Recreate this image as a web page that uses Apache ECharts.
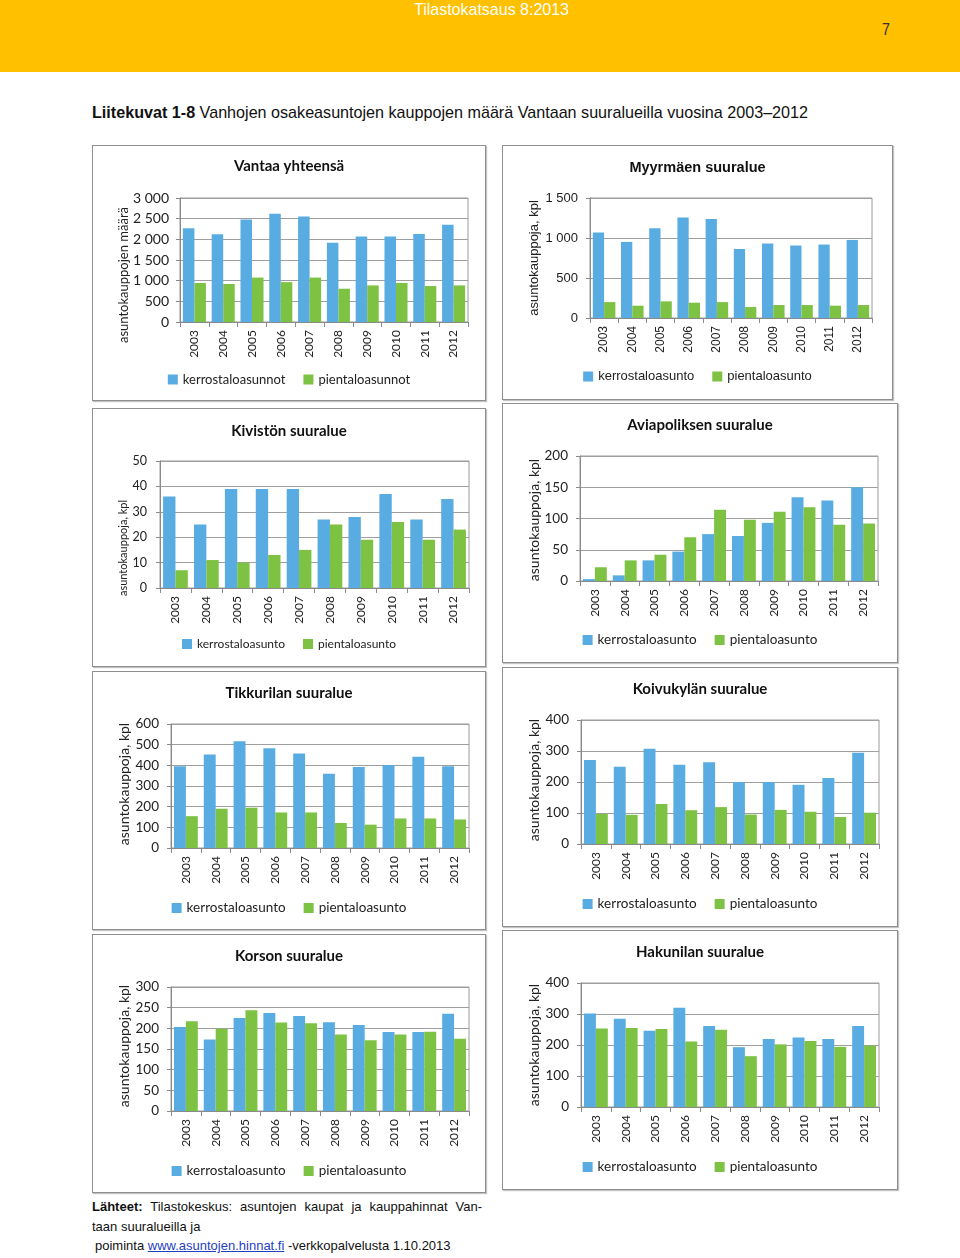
<!DOCTYPE html>
<html><head><meta charset="utf-8">
<script src="https://cdn.jsdelivr.net/npm/echarts@6/dist/echarts.min.js"></script>
<style>
html,body{margin:0;padding:0;background:#fff;}
body{width:960px;height:1258px;position:relative;overflow:hidden;font-family:"Liberation Sans",Arial,sans-serif;}
#band{position:absolute;left:0;top:0;width:960px;height:72px;background:#FFC000;}
#hdr{position:absolute;left:414px;top:0;display:inline-block;white-space:nowrap;color:#fff;font:17px/20px "Liberation Sans",Arial,sans-serif;transform-origin:left top;}
#pg{position:absolute;left:882px;top:20px;display:inline-block;color:#333;font:17px/20px "Liberation Sans",Arial,sans-serif;transform-origin:left top;}
#ttl{position:absolute;left:92px;top:103px;display:inline-block;white-space:nowrap;color:#111;font:17px/20px "Liberation Sans",Arial,sans-serif;transform-origin:left top;}
.panel{position:absolute;box-sizing:border-box;border:1px solid #8f8f8f;box-shadow:1px 1px 1px #c2c2c2;background:#fff;}
.panel .c{position:absolute;left:-1px;top:-1px;}
#foot{position:absolute;left:92px;top:1197px;width:390px;color:#111;font:13px/19.5px "Liberation Sans",Arial,sans-serif;}
#foot a{color:#1f3fbf;text-decoration:underline;}
</style>
</head>
<body>
<div id="band"></div>
<div id="hdr">Tilastokatsaus 8:2013</div>
<div id="pg">7</div>
<div id="ttl"><b>Liitekuvat 1-8</b> Vanhojen osakeasuntojen kauppojen määrä Vantaan suuralueilla vuosina 2003–2012</div>

<div class="panel" style="left:92px;top:145px;width:394px;height:256px"><div class="c" id="c1" style="width:394px;height:256px"></div></div>
<div class="panel" style="left:502px;top:145px;width:391px;height:255px"><div class="c" id="c2" style="width:391px;height:255px"></div></div>
<div class="panel" style="left:92px;top:408px;width:394px;height:259px"><div class="c" id="c3" style="width:394px;height:259px"></div></div>
<div class="panel" style="left:502px;top:403px;width:396px;height:260px"><div class="c" id="c4" style="width:396px;height:260px"></div></div>
<div class="panel" style="left:92px;top:671px;width:394px;height:259px"><div class="c" id="c5" style="width:394px;height:259px"></div></div>
<div class="panel" style="left:502px;top:667px;width:396px;height:260px"><div class="c" id="c6" style="width:396px;height:260px"></div></div>
<div class="panel" style="left:92px;top:934px;width:394px;height:259px"><div class="c" id="c7" style="width:394px;height:259px"></div></div>
<div class="panel" style="left:502px;top:930px;width:396px;height:260px"><div class="c" id="c8" style="width:396px;height:260px"></div></div>

<div id="foot">
<div style="text-align:justify;text-align-last:justify"><b>Lähteet:</b> Tilastokeskus: asuntojen kaupat ja kauppahinnat Van-</div>
<div>taan suuralueilla ja</div>
<div style="padding-left:3px">poiminta <a href="#">www.asuntojen.hinnat.fi</a> -verkkopalvelusta 1.10.2013</div>
</div>

<script>
// ---- data ----
const years = ['2003','2004','2005','2006','2007','2008','2009','2010','2011','2012'];

const vantaaKerros    = [2270, 2120, 2480, 2620, 2555, 1920, 2070, 2070, 2130, 2355];
const vantaaPiental   = [945, 920, 1075, 965, 1075, 805, 885, 945, 870, 885];
const myyrmakiKerros  = [1068, 951, 1122, 1255, 1238, 864, 931, 906, 918, 976];
const myyrmakiPiental = [199, 154, 208, 191, 199, 137, 162, 162, 154, 162];
const kivistoKerros   = [36, 25, 39, 39, 39, 27, 28, 37, 27, 35];
const kivistoPiental  = [7, 11, 10, 13, 15, 25, 19, 26, 19, 23];
const aviapolisKerros = [3, 9, 33, 47, 75, 72, 93, 134, 129, 150];
const aviapolisPiental= [22, 33, 42, 70, 114, 98, 111, 118, 90, 92];
const tikkurilaKerros = [396, 452, 516, 483, 457, 359, 392, 402, 441, 396];
const tikkurilaPiental= [154, 190, 195, 172, 172, 121, 113, 143, 143, 138];
const koivukylaKerros = [271, 249, 307, 256, 264, 200, 200, 191, 213, 294];
const koivukylaPiental= [97, 94, 129, 109, 119, 95, 110, 104, 87, 101];
const korsoKerros     = [203, 173, 225, 237, 230, 215, 208, 191, 191, 235];
const korsoPiental    = [217, 199, 244, 214, 212, 185, 171, 185, 192, 175];
const hakunilaKerros  = [302, 285, 246, 320, 261, 193, 219, 224, 219, 261];
const hakunilaPiental = [253, 255, 252, 211, 249, 164, 202, 213, 194, 198];

const namesTotal  = ['kerrostaloasunnot', 'pientaloasunnot'];
const namesArea   = ['kerrostaloasunto', 'pientaloasunto'];
const yNameTotal  = 'asuntokauppojen määrä';
const yNameArea   = 'asuntokauppoja, kpl';

// ---- condensed header text (Arial Narrow look) ----
function fitWidth(id, target){
  const el = document.getElementById(id);
  const w = el.getBoundingClientRect().width;
  el.style.transform = 'scaleX(' + (target / w) + ')';
}
fitWidth('hdr', 155);
fitWidth('ttl', 716);
fitWidth('pg', 8);

// ---- styling ----
const BLUE = '#58ACE1';
const GREEN = '#7DC243';
const CAL = 'Lato, "Open Sans", sans-serif';
const ARI = '"Liberation Sans", Arial, sans-serif';

function fmt(v){ return String(v).replace(/\B(?=(\d{3})+(?!\d))/g, ' '); }

function makeChart(id, cfg){
  const chart = echarts.init(document.getElementById(id), null, {renderer:'canvas'});
  const ff = cfg.font;
  chart.setOption({
    animation:false,
    textStyle:{fontFamily:ff},
    title:{text:cfg.title, left:'center', top:cfg.titleY-9, padding:0,
      textStyle:{fontFamily:ff, fontSize:cfg.titleSize || 15, fontWeight:'bold', color:'#111'}},
    legend:{data:cfg.names, left:'center', top:cfg.legendY-7, padding:0,
      itemWidth:10, itemHeight:10, itemGap:18, icon:'rect',
      textStyle:{fontFamily:ff, fontSize:cfg.legendSize, color:'#222'}},
    grid:{left:cfg.grid[0], top:cfg.grid[1], width:cfg.grid[2], height:cfg.grid[3],
      show:true, borderColor:'#9a9a9a', borderWidth:1, containLabel:false},
    xAxis:{type:'category', data:years,
      axisLine:{lineStyle:{color:'#8a8a8a'}},
      axisTick:{show:true, length:5, lineStyle:{color:'#8a8a8a'}},
      axisLabel:{rotate:90, margin:8, fontSize:12, color:'#222', fontFamily:ff, interval:0}},
    yAxis:{type:'value', min:0, max:cfg.max, interval:cfg.step,
      axisLine:{show:true, lineStyle:{color:'#8a8a8a'}},
      axisTick:{show:true, length:4, lineStyle:{color:'#8a8a8a'}},
      splitLine:{lineStyle:{color:'#9f9f9f'}},
      axisLabel:{margin:cfg.labelMargin, fontSize:cfg.tickSize, color:'#222', fontFamily:ff, formatter:fmt}},
    graphic:[{type:'text', x:cfg.nameX, y:cfg.nameY, rotation:Math.PI/2,
      style:{text:cfg.yName, fontFamily:ff, fontSize:cfg.nameSize, fill:'#222', align:'center', verticalAlign:'middle'}}],
    series:[
      {name:cfg.names[0], type:'bar', data:cfg.a, barGap:'0%', barCategoryGap:'20%', itemStyle:{color:BLUE}},
      {name:cfg.names[1], type:'bar', data:cfg.b, barGap:'0%', barCategoryGap:'20%', itemStyle:{color:GREEN}}
    ]
  });
}

makeChart('c1', {font:CAL, title:'Vantaa yhteensä', titleY:23, legendY:235, legendSize:13, names:namesTotal,
  grid:[88, 53, 288, 124], max:3000, step:500, labelMargin:11, tickSize:14,
  yName:yNameTotal, nameX:32, nameY:130, nameSize:13, a:vantaaKerros, b:vantaaPiental});
makeChart('c2', {font:ARI, title:'Myyrmäen suuralue', titleSize:14.5, titleY:24, legendY:232, legendSize:13, names:namesArea,
  grid:[88, 53, 282, 120], max:1500, step:500, labelMargin:12, tickSize:13,
  yName:yNameArea, nameX:32, nameY:113, nameSize:13, a:myyrmakiKerros, b:myyrmakiPiental});
makeChart('c3', {font:CAL, title:'Kivistön suuralue', titleY:25, legendY:237, legendSize:12, names:namesArea,
  grid:[68, 53, 309, 127], max:50, step:10, labelMargin:13, tickSize:12.5,
  yName:yNameArea, nameX:31, nameY:140, nameSize:11, a:kivistoKerros, b:kivistoPiental});
makeChart('c4', {font:CAL, title:'Aviapoliksen suuralue', titleY:24, legendY:237, legendSize:13.5, names:namesArea,
  grid:[78, 53, 298, 125], max:200, step:50, labelMargin:12, tickSize:13.5,
  yName:yNameArea, nameX:32, nameY:117, nameSize:14, a:aviapolisKerros, b:aviapolisPiental});
makeChart('c5', {font:CAL, title:'Tikkurilan suuralue', titleY:24, legendY:237, legendSize:13.5, names:namesArea,
  grid:[79, 53, 298, 124], max:600, step:100, labelMargin:12, tickSize:13.5,
  yName:yNameArea, nameX:32, nameY:113, nameSize:14, a:tikkurilaKerros, b:tikkurilaPiental});
makeChart('c6', {font:CAL, title:'Koivukylän suuralue', titleY:24, legendY:237, legendSize:13.5, names:namesArea,
  grid:[79, 53, 298, 124], max:400, step:100, labelMargin:12, tickSize:13.5,
  yName:yNameArea, nameX:32, nameY:113, nameSize:14, a:koivukylaKerros, b:koivukylaPiental});
makeChart('c7', {font:CAL, title:'Korson suuralue', titleY:24, legendY:237, legendSize:13.5, names:namesArea,
  grid:[79, 53, 298, 124], max:300, step:50, labelMargin:12, tickSize:13.5,
  yName:yNameArea, nameX:32, nameY:112, nameSize:14, a:korsoKerros, b:korsoPiental});
makeChart('c8', {font:CAL, title:'Hakunilan suuralue', titleY:24, legendY:237, legendSize:13.5, names:namesArea,
  grid:[79, 53, 298, 124], max:400, step:100, labelMargin:12, tickSize:13.5,
  yName:yNameArea, nameX:32, nameY:115, nameSize:14, a:hakunilaKerros, b:hakunilaPiental});
</script>
</body></html>
